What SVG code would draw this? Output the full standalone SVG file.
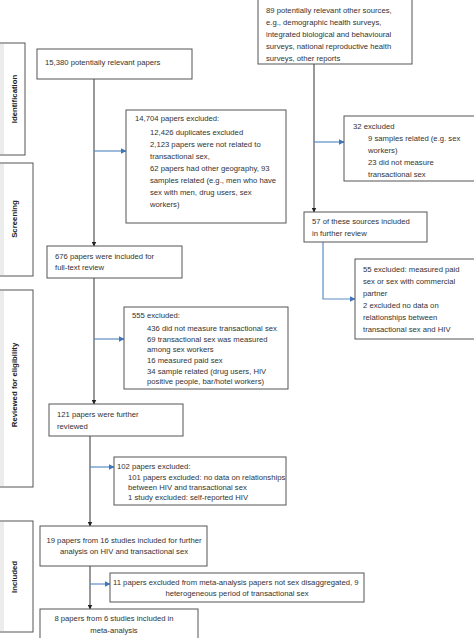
<svg xmlns="http://www.w3.org/2000/svg" width="474" height="638" viewBox="0 0 474 638">
<defs>
<style>
.box{fill:#fff;stroke:#555;stroke-width:1}
.side{fill:#fff;stroke:#555;stroke-width:1}
.strip{fill:#ececec;stroke:none}
text{font-family:"Liberation Sans",Arial,sans-serif;font-size:7.7px;fill:#333}
.lab{font-weight:bold;font-size:7.8px;fill:#222;text-anchor:middle}
.mid{text-anchor:middle}
.blk{stroke:#555;stroke-width:1.2;fill:none}
.blu{stroke:#5b8ec4;stroke-width:1.2;fill:none}
</style>
<marker id="ab" viewBox="0 0 10 10" refX="9" refY="5" markerWidth="5" markerHeight="5" orient="auto" markerUnits="userSpaceOnUse"><path d="M0,0 L10,5 L0,10 z" fill="#222"/></marker>
<marker id="au" viewBox="0 0 10 10" refX="9" refY="5" markerWidth="6" markerHeight="6" orient="auto" markerUnits="userSpaceOnUse"><path d="M0,0 L10,5 L0,10 z" fill="#3f76b8"/></marker>
</defs>

<g id="side-identification"><rect class="side" x="-2" y="43" width="27" height="112"/><rect class="strip" x="0" y="44" width="4" height="110"/><text class="lab" transform="translate(17,99) rotate(-90)">Identification</text></g>
<g id="side-screening"><rect class="side" x="-2" y="163" width="35" height="113"/><rect class="strip" x="0" y="164" width="4" height="111"/><text class="lab" transform="translate(17,219) rotate(-90)">Screening</text></g>
<g id="side-reviewed"><rect class="side" x="-2" y="290" width="35" height="197"/><rect class="strip" x="0" y="291" width="4" height="195"/><text class="lab" transform="translate(17,385) rotate(-90)">Reviewed for eligibility</text></g>
<g id="side-included"><rect class="side" x="-2" y="521" width="35" height="111"/><rect class="strip" x="0" y="522" width="4" height="109"/><text class="lab" transform="translate(17,577) rotate(-90)">Included</text></g>

<g id="connectors">
<line class="blk" x1="94" y1="79" x2="94" y2="246" marker-end="url(#ab)"/>
<line class="blu" x1="94" y1="151" x2="126" y2="151" marker-end="url(#au)"/>
<line class="blk" x1="314" y1="64" x2="314" y2="212" marker-end="url(#ab)"/>
<line class="blu" x1="314" y1="142" x2="344" y2="142" marker-end="url(#au)"/>
<polyline class="blu" points="323,242 323,299 355,299" marker-end="url(#au)"/>
<line class="blk" x1="94" y1="278" x2="94" y2="404" marker-end="url(#ab)"/>
<line class="blu" x1="94" y1="339" x2="124" y2="339" marker-end="url(#au)"/>
<line class="blk" x1="90" y1="436" x2="90" y2="526" marker-end="url(#ab)"/>
<line class="blu" x1="90" y1="467" x2="114" y2="467" marker-end="url(#au)"/>
<line class="blk" x1="90" y1="566" x2="90" y2="609" marker-end="url(#ab)"/>
<line class="blu" x1="90" y1="584" x2="110" y2="584" marker-end="url(#au)"/>
</g>

<g id="n-15380"><rect class="box" x="37" y="49" width="155" height="30"/><text x="45" y="65">15,380 potentially relevant papers</text></g>

<g id="n-14704"><rect class="box" x="126" y="110" width="160" height="113"/>
<text x="135" y="121">14,704 papers excluded:</text>
<text x="150" y="135">12,426 duplicates excluded</text>
<text x="150" y="147">2,123 papers were not related to</text>
<text x="150" y="159">transactional sex,</text>
<text x="150" y="171">62 papers had other geography, 93</text>
<text x="150" y="183">samples related (e.g., men who have</text>
<text x="150" y="195">sex with men, drug users, sex</text>
<text x="150" y="207">workers)</text>
</g>

<g id="n-89"><rect class="box" x="258" y="-2" width="154" height="66"/>
<text x="266" y="13">89 potentially relevant other sources,</text>
<text x="266" y="25">e.g., demographic health surveys,</text>
<text x="266" y="37">integrated biological and behavioural</text>
<text x="266" y="49">surveys, national reproductive health</text>
<text x="266" y="61">surveys, other reports</text>
</g>

<g id="n-32"><rect class="box" x="344" y="116" width="133" height="65"/>
<text x="353" y="129">32 excluded</text>
<text x="368" y="141">9 samples related (e.g. sex</text>
<text x="368" y="153">workers)</text>
<text x="368" y="165">23 did not measure</text>
<text x="368" y="177">transactional sex</text>
</g>

<g id="n-57"><rect class="box" x="304" y="212" width="123" height="30"/>
<text x="312" y="224">57 of these sources included</text>
<text x="312" y="236">in further review</text>
</g>

<g id="n-55"><rect class="box" x="355" y="259" width="122" height="80"/>
<text x="363" y="272">55 excluded: measured paid</text>
<text x="363" y="284">sex or sex with commercial</text>
<text x="363" y="296">partner</text>
<text x="363" y="308">2 excluded no data on</text>
<text x="363" y="320">relationships between</text>
<text x="363" y="332">transactional sex and HIV</text>
</g>

<g id="n-676"><rect class="box" x="47" y="246" width="135" height="32"/>
<text x="55" y="259">676 papers were included for</text>
<text x="55" y="270">full-text review</text>
</g>

<g id="n-555"><rect class="box" x="124" y="307" width="164" height="82"/>
<text x="132" y="318">555 excluded:</text>
<text x="147" y="331">436 did not measure transactional sex</text>
<text x="147" y="342">69 transactional sex was measured</text>
<text x="147" y="352">among sex workers</text>
<text x="147" y="363">16 measured paid sex</text>
<text x="147" y="374">34 sample related (drug users, HIV</text>
<text x="147" y="384">positive people, bar/hotel workers)</text>
</g>

<g id="n-121"><rect class="box" x="49" y="404" width="134" height="32"/>
<text x="57" y="417">121 papers were further</text>
<text x="57" y="429">reviewed</text>
</g>

<g id="n-102"><rect class="box" x="114" y="457" width="172" height="48"/>
<text x="117" y="469">102 papers excluded:</text>
<text x="128" y="480">101 papers excluded: no data on relationships</text>
<text x="128" y="490">between HIV and transactional sex</text>
<text x="128" y="500">1 study excluded: self-reported HIV</text>
</g>

<g id="n-19"><rect class="box" x="40" y="526" width="167" height="40"/>
<text class="mid" x="124" y="543">19 papers from 16 studies included for further</text>
<text class="mid" x="124" y="554">analysis on HIV and transactional sex</text>
</g>

<g id="n-11"><rect class="box" x="110" y="573" width="254" height="29"/>
<text x="113" y="585">11 papers excluded from meta-analysis papers not sex disaggregated, 9</text>
<text class="mid" x="237" y="596">heterogeneous period of transactional sex</text>
</g>

<g id="n-8"><rect class="box" x="40" y="609" width="158" height="34"/>
<text class="mid" x="114" y="621">8 papers from 6 studies included in</text>
<text class="mid" x="114" y="633">meta-analysis</text>
</g>
</svg>
